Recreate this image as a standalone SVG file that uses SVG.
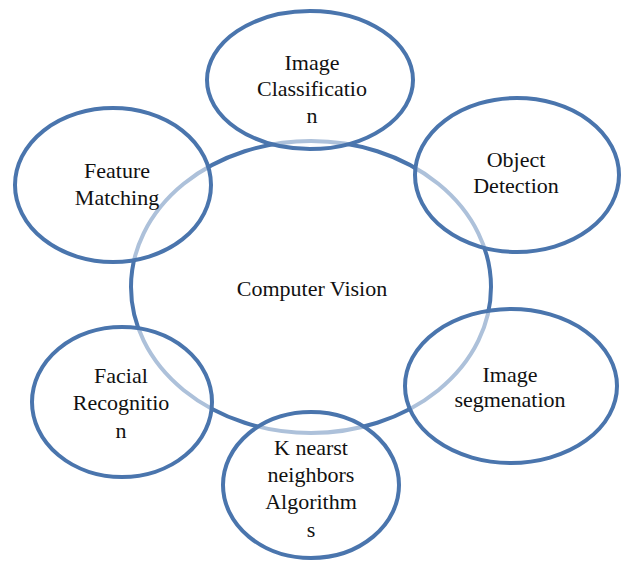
<svg xmlns="http://www.w3.org/2000/svg" width="622" height="562" viewBox="0 0 622 562">
<style>
.c{fill:#ffffff;stroke:#4a75ad;stroke-width:4}
.o{fill:#ffffff;fill-opacity:0.55;stroke:#4a75ad;stroke-width:4}
</style>
<rect width="622" height="562" fill="#ffffff"/>
<g id="center">
<ellipse class="c" cx="311" cy="287" rx="180" ry="146"/>
<text x="312" y="296" font-family="Times New Roman" font-size="22" fill="#111111" text-anchor="middle">Computer Vision</text>
</g>
<g id="image-classification">
<ellipse class="o" cx="310" cy="80" rx="103" ry="69"/>
<text x="312" y="70" font-family="Times New Roman" font-size="22" fill="#111111" text-anchor="middle">Image</text>
<text x="312" y="96" font-family="Times New Roman" font-size="22" fill="#111111" text-anchor="middle">Classificatio</text>
<text x="312" y="123" font-family="Times New Roman" font-size="22" fill="#111111" text-anchor="middle">n</text>
</g>
<g id="object-detection">
<ellipse class="o" cx="517" cy="175" rx="102" ry="77"/>
<text x="516" y="167" font-family="Times New Roman" font-size="22" fill="#111111" text-anchor="middle">Object</text>
<text x="516" y="193" font-family="Times New Roman" font-size="22" fill="#111111" text-anchor="middle">Detection</text>
</g>
<g id="image-segmentation">
<ellipse class="o" cx="511" cy="386" rx="106" ry="77"/>
<text x="510" y="382" font-family="Times New Roman" font-size="22" fill="#111111" text-anchor="middle">Image</text>
<text x="510" y="407" font-family="Times New Roman" font-size="22" fill="#111111" text-anchor="middle">segmenation</text>
</g>
<g id="knn">
<ellipse class="o" cx="311" cy="485" rx="88" ry="73"/>
<text x="311" y="455" font-family="Times New Roman" font-size="22" fill="#111111" text-anchor="middle">K nearst</text>
<text x="311" y="482" font-family="Times New Roman" font-size="22" fill="#111111" text-anchor="middle">neighbors</text>
<text x="311" y="509" font-family="Times New Roman" font-size="22" fill="#111111" text-anchor="middle">Algorithm</text>
<text x="311" y="537" font-family="Times New Roman" font-size="22" fill="#111111" text-anchor="middle">s</text>
</g>
<g id="facial-recognition">
<ellipse class="o" cx="122" cy="402" rx="90" ry="75"/>
<text x="121" y="383" font-family="Times New Roman" font-size="22" fill="#111111" text-anchor="middle">Facial</text>
<text x="121" y="410" font-family="Times New Roman" font-size="22" fill="#111111" text-anchor="middle">Recognitio</text>
<text x="121" y="438" font-family="Times New Roman" font-size="22" fill="#111111" text-anchor="middle">n</text>
</g>
<g id="feature-matching">
<ellipse class="o" cx="113" cy="185" rx="98" ry="77"/>
<text x="117" y="178" font-family="Times New Roman" font-size="22" fill="#111111" text-anchor="middle">Feature</text>
<text x="117" y="205" font-family="Times New Roman" font-size="22" fill="#111111" text-anchor="middle">Matching</text>
</g>
<g id="connectors"></g>
</svg>
